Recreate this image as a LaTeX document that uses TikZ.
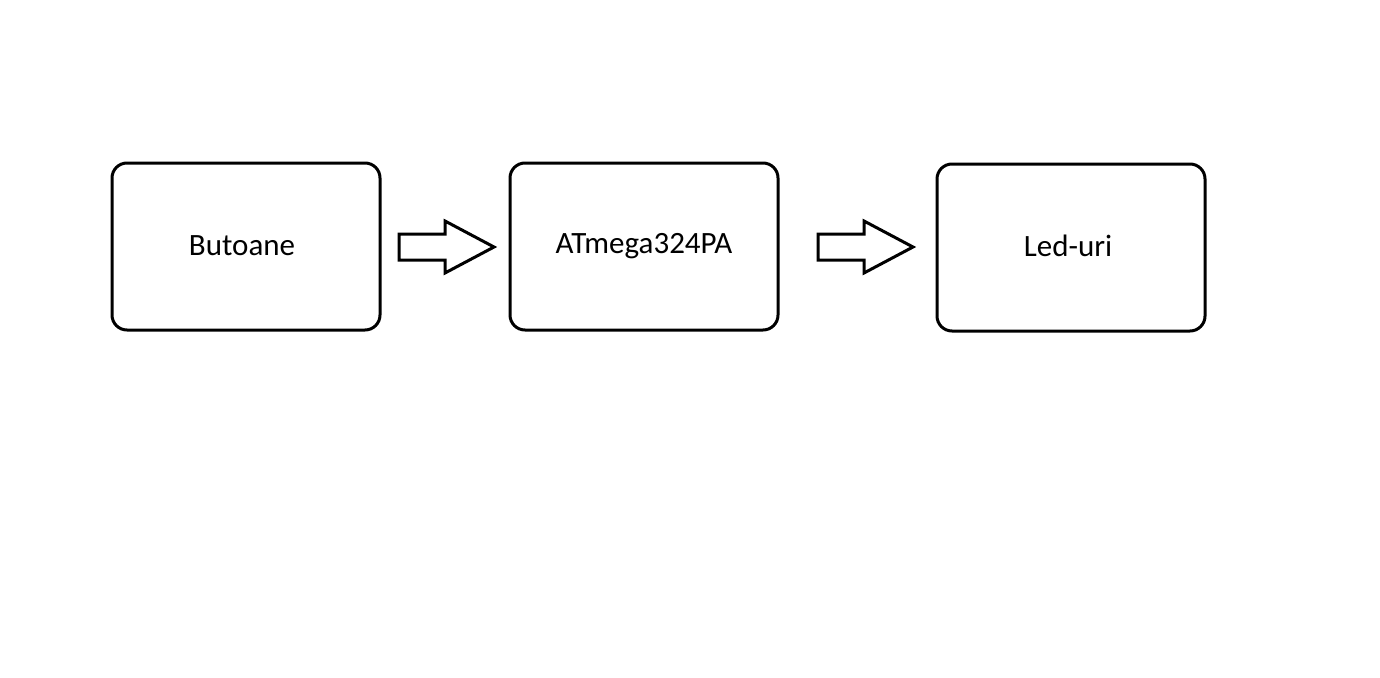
\documentclass[tikz,border=0pt]{standalone}
\usepackage{fontspec}
\setmainfont{Carlito}
\begin{document}
\begin{tikzpicture}[x=1pt,y=-1pt,
  blk/.style={draw,line width=3pt,rounded corners=15pt,minimum width=268pt,minimum height=167pt,inner sep=0pt},
  lbl/.style={font=\fontsize{31}{36}\selectfont,inner sep=0pt},
  barrow/.style={draw,line width=3pt,fill=white,line join=miter}]
\useasboundingbox (0,0) rectangle (1380,677);
\node[blk] (b) at (246,246.5) {};
\node[blk] (a) at (644,246.5) {};
\node[blk] (l) at (1071,247.5) {};
\node[lbl] (bt) at (242,246) {Butoane};
\node[lbl] (at) at (644,246) {ATmega324PA};
\node[lbl] (lt) at (1068,246) {Led-uri};
\foreach \s in {399,818}{
  \draw[barrow] (\s,234) -- (\s+46,234) -- (\s+46,221) -- (\s+95,247) -- (\s+46,273) -- (\s+46,260) -- (\s,260) -- cycle;
}
\end{tikzpicture}
\end{document}
